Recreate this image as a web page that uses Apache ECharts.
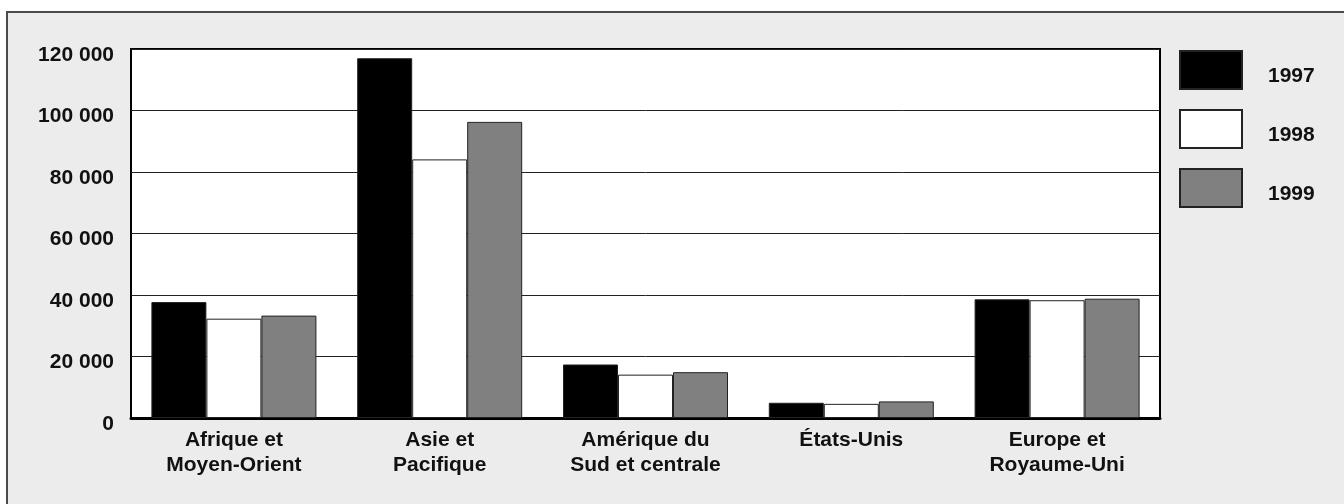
<!DOCTYPE html>
<html>
<head>
<meta charset="utf-8">
<script src="https://cdn.jsdelivr.net/npm/echarts@6/dist/echarts.min.js"></script>
<style>
html,body{margin:0;padding:0;background:#fff;}
#chart{width:1344px;height:504px;}
</style>
</head>
<body>
<div id="chart"></div>
<script>
const categories = ["Afrique et\nMoyen-Orient", "Asie et\nPacifique", "Amérique du\nSud et centrale", "États-Unis", "Europe et\nRoyaume-Uni"];
const seriesNames = ["1997", "1998", "1999"];
const values1997 = [37700, 117000, 17400, 4950, 38600];
const values1998 = [32300, 84100, 14100, 4600, 38300];
const values1999 = [33300, 96300, 14900, 5400, 38800];
const seriesColors = ["#000000", "#ffffff", "#808080"];
const yMin = 0, yMax = 120000, yStep = 20000;

const FONT = "'Liberation Sans', Arial, sans-serif";
const chart = echarts.init(document.getElementById('chart'), null, {renderer: 'canvas'});
const allValues = [values1997, values1998, values1999];

function fmt(v) {
  return String(v).replace(/\B(?=(\d{3})+(?!\d))/g, ' ');
}

chart.setOption({
  animation: false,
  backgroundColor: 'transparent',
  graphic: [{
    type: 'rect',
    z: -10,
    shape: {x: 7, y: 12, width: 1400, height: 600},
    style: {fill: '#ececec', stroke: '#4a4a4a', lineWidth: 2}
  }],
  grid: {
    left: 131, top: 49, width: 1029, height: 369,
    show: true, backgroundColor: '#ffffff', borderColor: '#000', borderWidth: 2,
    containLabel: false
  },
  legend: {
    orient: 'vertical',
    left: 1179, top: 50, padding: 0,
    itemWidth: 62, itemHeight: 38, itemGap: 19,
    icon: 'rect',
    data: seriesNames,
    formatter: '{a|{name}}',
    textStyle: {
      fontFamily: FONT, fontWeight: 'bold', fontSize: 21, color: '#111',
      rich: {a: {fontFamily: FONT, fontWeight: 'bold', fontSize: 21, color: '#111', padding: [12, 0, 0, 21]}}
    }
  },
  xAxis: {
    type: 'category',
    data: categories,
    axisLine: {show: true, lineStyle: {color: '#000', width: 3}},
    axisTick: {show: false},
    axisLabel: {fontFamily: FONT, fontWeight: 'bold', fontSize: 21, color: '#111', lineHeight: 25, margin: 10, interval: 0}
  },
  yAxis: {
    type: 'value',
    min: yMin, max: yMax, interval: yStep,
    axisLine: {show: false},
    axisTick: {show: false},
    splitLine: {show: true, lineStyle: {color: '#222', width: 1}},
    axisLabel: {fontFamily: FONT, fontWeight: 'bold', fontSize: 21, color: '#111', margin: 17, verticalAlign: 'top', lineHeight: 12, formatter: fmt}
  },
  series: seriesNames.map((name, i) => ({
    name: name,
    type: 'bar',
    data: allValues[i],
    barWidth: 55,
    barGap: '0%',
    itemStyle: {color: seriesColors[i], borderColor: '#222', borderWidth: 1}
  }))
});
</script>
</body>
</html>
